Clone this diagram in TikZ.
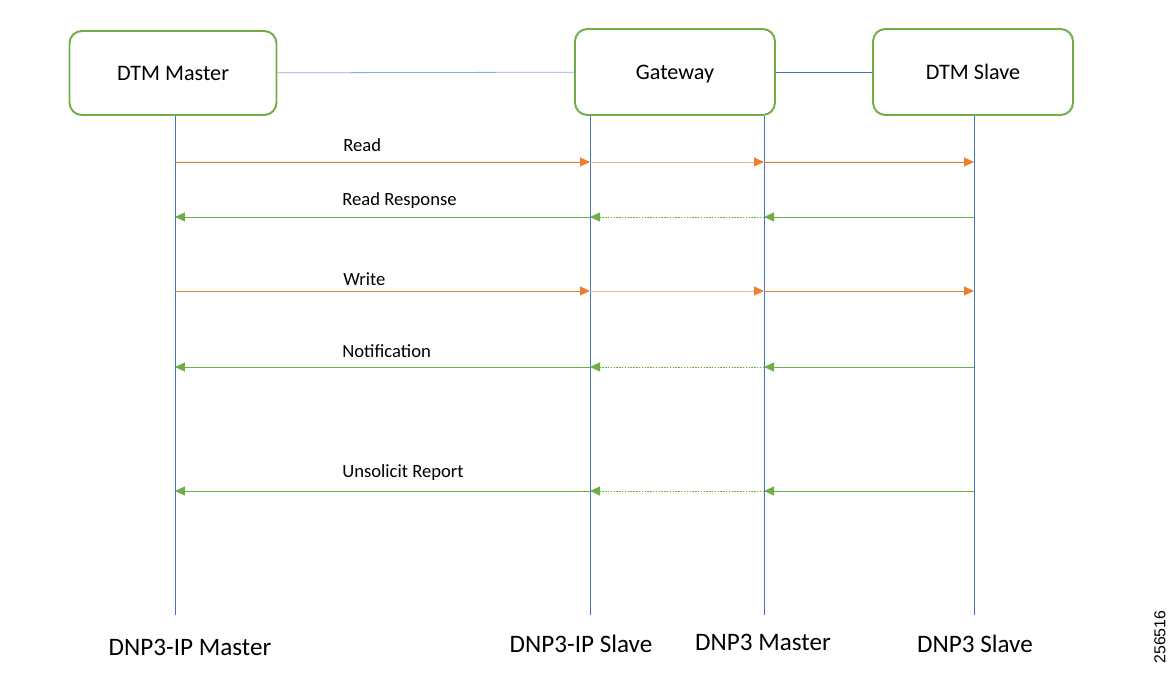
\documentclass[tikz,border=0pt]{standalone}
\usepackage{fontspec}
\setmainfont{Carlito}
\newfontfamily\idfont{Liberation Sans}
\usetikzlibrary{arrows.meta, positioning, calc}
\usepackage{xcolor}
\definecolor{lnBlue}{HTML}{4472C4}
\definecolor{lnBlueLight}{HTML}{8FAADC}
\definecolor{msgOrange}{HTML}{ED7D31}
\definecolor{msgOrangeLight}{HTML}{F4B183}
\definecolor{msgGreen}{HTML}{70AD47}
\tikzset{
    >={Triangle[length=0.2cm, width=0.18cm]},
    % Shapes
    party/.style={rectangle, draw=msgGreen, line width=1.1pt, rounded corners=7pt,
                  minimum width=4cm, minimum height=1.72cm, align=center,
                  text depth=0pt,
                  font=\fontsize{12.6}{15}\selectfont},
    endlbl/.style={inner sep=0pt, font=\fontsize{14.3}{17}\selectfont},
    % Flow & Labels
    life/.style={draw=lnBlue, line width=0.45pt},
    req/.style={->, line width=0.55pt, draw=msgOrange, fill=msgOrange},
    reqdim/.style={-{Triangle[length=0.2cm, width=0.18cm, color=msgOrange]},
                   line width=0.55pt, draw=msgOrangeLight},
    resp/.style={->, line width=0.55pt, draw=msgGreen, fill=msgGreen},
    respdot/.style={resp, dash pattern=on 0.8pt off 0.8pt},
    lbl/.style={anchor=west, inner sep=0pt, font=\fontsize{10.6}{13}\selectfont}
}

\begin{document}
\begin{tikzpicture}[x=0.02cm, y=-0.02cm]
\useasboundingbox (0,0) rectangle (1170,686);

% Teilnehmer
\node[party, minimum width=4.14cm, minimum height=1.68cm] (master) at (173,73) {DTM Master};
\node[party] (gateway) at (675,72) {Gateway};
\node[party] (slave) at (973,72) {DTM Slave};

\draw[life, draw=lnBlueLight] (master) -- (gateway);
\draw[life] (gateway) -- (slave);

% Protokoll-Rollen
\node[endlbl] (ipmaster) at (190,647) {DNP3-IP Master};
\node[endlbl] (ipslave) at (581,644) {DNP3-IP Slave};
\node[endlbl] (dnpmaster) at (763,642) {DNP3 Master};
\node[endlbl] (dnpslave) at (975,644) {DNP3 Slave};

% Lebenslinien
\coordinate (l1) at (175,615);
\coordinate (l2) at (590,615);
\coordinate (l3) at (764,615);
\coordinate (l4) at (974,615);

\draw[life] (master.south -| l1) -- (l1);
\draw[life] (gateway.south -| l2) -- (l2);
\draw[life] (gateway.south -| l3) -- (l3);
\draw[life] (slave.south -| l4) -- (l4);

% Anfragen
\foreach \y/\ly/\msg in {162/145/Read, 291/279/Write} {
  \coordinate (m) at (0,\y);
  \draw[req] (l1 |- m) -- (l2 |- m);
  \draw[reqdim] (l2 |- m) -- (l3 |- m);
  \draw[req] (l3 |- m) -- (l4 |- m);
  \node[lbl] (msg\y) at (343,\ly) {\msg};
}

% Antworten
\foreach \y/\ly/\msg in {217/201/Read Response, 367/351/Notification, 491/473/Unsolicit Report} {
  \coordinate (m) at (0,\y);
  \draw[resp] (l4 |- m) -- (l3 |- m);
  \draw[respdot] (l3 |- m) -- (l2 |- m);
  \draw[resp] (l2 |- m) -- (l1 |- m);
  \node[lbl] (msg\y) at (342,\ly) {\msg};
}

\node[rotate=90, font=\idfont\fontsize{9}{10}\selectfont] (figid) at (1160,637) {256516};

\end{tikzpicture}
\end{document}
